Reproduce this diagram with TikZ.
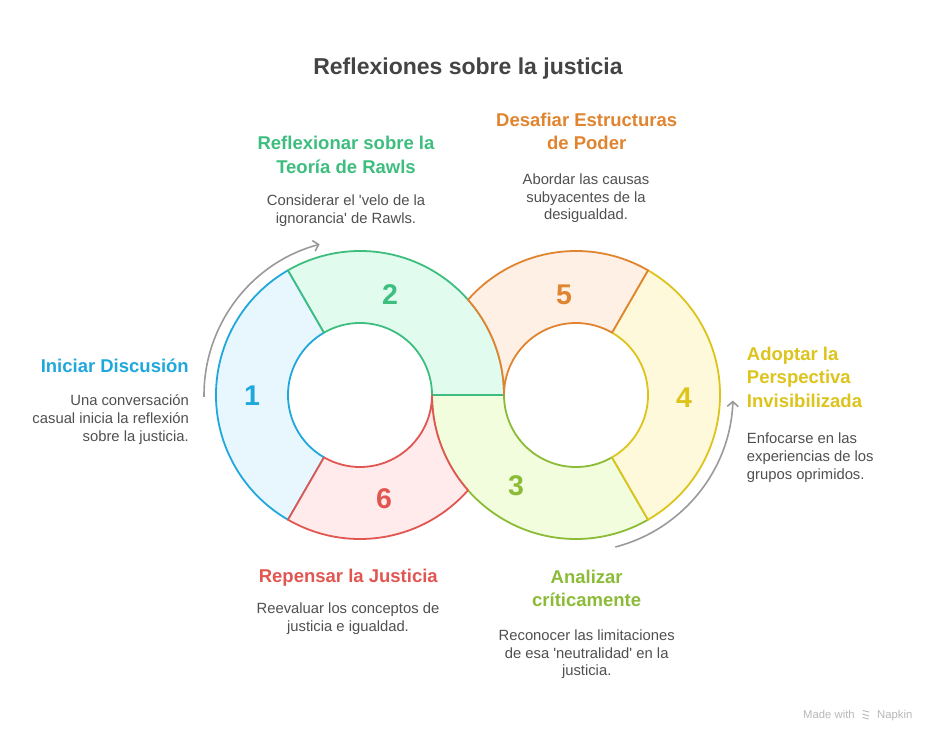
\documentclass[tikz,border=0pt]{standalone}
\usepackage{fontspec}
\setmainfont{Liberation Sans}[Ligatures=TeXOff]
\usetikzlibrary{calc,arrows.meta}
\definecolor{cA}{HTML}{20A8DD}\definecolor{fA}{HTML}{E8F7FE}
\definecolor{cB}{HTML}{3DBE7F}\definecolor{fB}{HTML}{E1FCEF}
\definecolor{cC}{HTML}{8CBB38}\definecolor{fC}{HTML}{F2FDDD}
\definecolor{cD}{HTML}{DDC41C}\definecolor{fD}{HTML}{FFF9DB}
\definecolor{cE}{HTML}{E0842F}\definecolor{fE}{HTML}{FFF0E5}
\definecolor{cF}{HTML}{E25652}\definecolor{fF}{HTML}{FFEBEB}
\definecolor{titlegray}{HTML}{444444}
\definecolor{bodygray}{HTML}{505050}
\definecolor{arrowgray}{HTML}{9A9A9A}
\definecolor{wmgray}{HTML}{B8B8B8}
\begin{document}
\begin{tikzpicture}[x=1pt,y=1pt,
  seg/.style={line width=1.8pt, line join=round},
  num/.style={font=\fontsize{28.5}{28.5}\selectfont\bfseries, inner sep=0},
  head/.style={font=\fontsize{18.5}{23.5}\selectfont\bfseries, inner sep=0, anchor=base},
  body/.style={font=\fontsize{14.8}{17.7}\selectfont, text=bodygray, inner sep=0, anchor=base},
  flow/.style={draw=arrowgray, line width=1.6pt, -{Straight Barb[length=5pt,width=11pt]}},
  wm/.style={font=\fontsize{11.3}{13}\selectfont, text=wmgray, inner sep=0, anchor=base west}]
\useasboundingbox (0,0) rectangle (936,742);
\fill[white] (0,0) rectangle (936,742);
\coordinate (L) at (360,347);
\coordinate (R) at (576,347);
% segment 1
\filldraw[seg, draw=cA, fill=fA] ($(L)+(120:144)$) arc[start angle=120, end angle=240, radius=144]
  -- ($(L)+(240:72)$) arc[start angle=240, end angle=120, radius=72] -- cycle;
% segment 3
\filldraw[seg, draw=cC, fill=fC] ($(R)+(180:144)$) arc[start angle=180, end angle=300, radius=144]
  -- ($(R)+(300:72)$) arc[start angle=300, end angle=180, radius=72] -- cycle;
% segment 2
\filldraw[seg, draw=cB, fill=fB] ($(L)+(0:144)$) arc[start angle=0, end angle=120, radius=144]
  -- ($(L)+(120:72)$) arc[start angle=120, end angle=0, radius=72] -- cycle;
% segment 4
\filldraw[seg, draw=cD, fill=fD] ($(R)+(-60:144)$) arc[start angle=-60, end angle=60, radius=144]
  -- ($(R)+(60:72)$) arc[start angle=60, end angle=-60, radius=72] -- cycle;
% segment 5
\filldraw[seg, draw=cE, fill=fE] ($(R)+(60:144)$) arc[start angle=60, end angle=138.5904, radius=144]
  arc[start angle=41.4096, end angle=0, radius=144]
  arc[start angle=180, end angle=60, radius=72] -- cycle;
% segment 6
\filldraw[seg, draw=cF, fill=fF] ($(L)+(240:144)$) arc[start angle=240, end angle=318.5904, radius=144]
  arc[start angle=221.4096, end angle=180, radius=144]
  arc[start angle=360, end angle=240, radius=72] -- cycle;
% numbers
\node[num, text=cA] (n1) at (252,346.5) {1};
\node[num, text=cB] (n2) at (390,447) {2};
\node[num, text=cC] (n3) at (516,256) {3};
\node[num, text=cD] (n4) at (684,344) {4};
\node[num, text=cE] (n5) at (564,447) {5};
\node[num, text=cF] (n6) at (384,243) {6};
% flow arrows
\coordinate (a1s) at ($(L)+(180.7:156)$);
\draw[flow] (a1s) arc[start angle=180.7, end angle=105, radius=156];
\coordinate (a2s) at ($(R)+(-75.5:157)$);
\draw[flow] (a2s) arc[start angle=-75.5, end angle=-2, radius=157];
% title
\node[font=\fontsize{23}{26}\selectfont\bfseries, text=titlegray, inner sep=0, anchor=base] (title) at (468,667) {Reflexiones sobre la justicia};
% labels (anchored at the baseline of the last line)
\node[head, text=cA, anchor=base east] (h1) at (189,369.7) {Iniciar Discusión};
\node[body, align=right, anchor=base east] (b1) at (189,301) {Una conversación\\casual inicia la reflexión\\sobre la justicia.};
\node[head, text=cB, align=center] (h2) at (346,568.7) {Reflexionar sobre la\\Teoría de Rawls};
\node[body, align=center] (b2) at (346,518.7) {Considerar el 'velo de la\\ignorancia' de Rawls.};
\node[head, text=cE, align=center] (h5) at (586.7,592) {Desafiar Estructuras\\de Poder};
\node[body, align=center] (b5) at (586,522) {Abordar las causas\\subyacentes de la\\desigualdad.};
\node[head, text=cD, align=left, anchor=base west] (h4) at (746.7,334.5) {Adoptar la\\Perspectiva\\Invisibilizada};
\node[body, align=left, anchor=base west] (b4) at (746.7,263) {Enfocarse en las\\experiencias de los\\grupos oprimidos.};
\node[head, text=cF, align=center] (h6) at (348.3,159.7) {Repensar la Justicia};
\node[body, align=center] (b6) at (348,111) {Reevaluar los conceptos de\\justicia e igualdad.};
\node[head, text=cC, align=center] (h3) at (586.7,135.3) {Analizar\\críticamente};
\node[body, align=center] (b3) at (586.7,66.3) {Reconocer las limitaciones\\de esa 'neutralidad' en la\\justicia.};
% watermark
\node[wm] (wm1) at (803,24) {Made with};
\node[wm] (wm2) at (877,24) {Napkin};
\draw[wmgray, line width=0.9pt, line cap=round] (863,31.5) -- (869,30) (862.5,28) -- (869,26) (863,24.5) -- (868.5,23);
\end{tikzpicture}
\end{document}
